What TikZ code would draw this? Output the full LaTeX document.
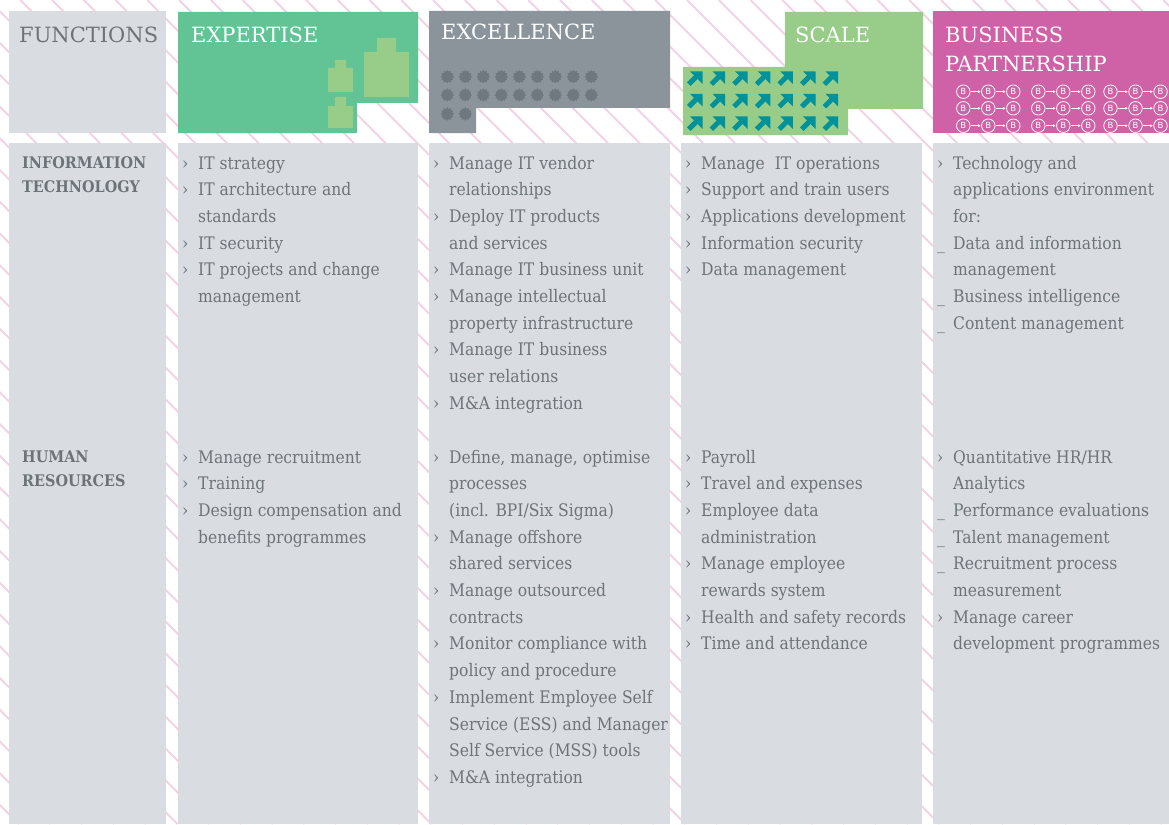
\documentclass[tikz,border=0pt]{standalone}
\usepackage{fontspec}
\setmainfont{DejaVu Serif}
\newfontfamily\condfont{DejaVu Serif Condensed}
\newfontfamily\bsans{DejaVu Sans}
\usepackage{array}
\usetikzlibrary{shapes.geometric,arrows.meta}

\definecolor{cPanel}{HTML}{D9DCE0}
\definecolor{cStripe}{HTML}{F2D3E6}
\definecolor{cTxt}{HTML}{6C747A}
\definecolor{cExp}{HTML}{62C395}
\definecolor{cLgreen}{HTML}{98CD89}
\definecolor{cExc}{HTML}{8A949A}
\definecolor{cStar}{HTML}{6F787E}
\definecolor{cTeal}{HTML}{00929B}
\definecolor{cPink}{HTML}{CF62A6}

\newcommand\bodyfnt{\condfont\fontsize{17.3}{26.7}\selectfont}
\newcommand\hdrfnt{\fontsize{21}{29}\selectfont}
\newcommand\labfnt{\condfont\bfseries\fontsize{16}{24.5}\selectfont}
\newcommand\itm{›}
\newenvironment{lst}{\begin{tabular}[t]{@{}p{16pt}@{}l@{}}}{\end{tabular}}
\newenvironment{lns}{\begin{tabular}[t]{@{}l@{}}}{\end{tabular}}

\tikzset{
  stripe/.style={draw=cStripe, line width=1.9pt},
  body/.style={font=\bodyfnt, text=cTxt, inner sep=0pt, anchor=base west},
  hdr/.style={font=\hdrfnt, inner sep=0pt, anchor=base west},
  lab/.style={font=\labfnt, text=cTxt, inner sep=0pt, anchor=base west},
  gear/.style={star, star points=12, star point ratio=1.3, minimum size=13.5pt, inner sep=0pt, fill=cStar, draw=none},
  bcirc/.style={circle, draw=white, line width=0.8pt, minimum size=13.5pt, inner sep=0pt, text=white, font=\bsans\fontsize{8.5}{8.5}\selectfont},
  blink/.style={draw=white, line width=0.9pt, -{Latex[length=2.5pt,width=3pt]}, shorten <=0.5pt, shorten >=0.5pt},
  tarrow/.pic={
    \fill[cTeal] (3,-0.5) -- (15.5,-0.5) -- (15.5,12) -- cycle;
    \draw[cTeal, line width=5pt] (1.8,12.2) -- (10,4);
  }
}

\begin{document}
\begin{tikzpicture}[x=1pt,y=-1pt]
\useasboundingbox (0,0) rectangle (1169,824);
\fill[white] (0,0) rectangle (1169,824);
\begin{scope}
  \clip (0,0) rectangle (1169,824);
  \foreach \k in {-48,...,15}
    \draw[stripe] ({687+31.75*\k},0) -- ({687+31.75*\k+824},824);
\end{scope}

% ---------- header blocks ----------
\fill[cPanel] (9,11) rectangle (166,133);
\fill[cExp] (178,12) -- (418,12) -- (418,103) -- (357,103) -- (357,133) -- (178,133) -- cycle;
\fill[cExc] (429,11) -- (670,11) -- (670,108) -- (476,108) -- (476,133) -- (429,133) -- cycle;
\fill[cLgreen] (785,12) -- (923,12) -- (923,109) -- (848,109) -- (848,135) -- (683,135) -- (683,67) -- (785,67) -- cycle;
\fill[cPink] (933,11) rectangle (1169,133);

% expertise icons
\fill[cLgreen] (377,38) -- (396,38) -- (396,52) -- (409,52) -- (409,97) -- (364,97) -- (364,52) -- (377,52) -- cycle;
\fill[cLgreen] (335,60) -- (346,60) -- (346,68) -- (353,68) -- (353,92) -- (328,92) -- (328,68) -- (335,68) -- cycle;
\fill[cLgreen] (335,97) -- (346,97) -- (346,106) -- (353,106) -- (353,128) -- (328,128) -- (328,106) -- (335,106) -- cycle;

% excellence gears
\foreach \r/\yy/\n in {1/76.7/8, 2/95/8, 3/114/1}
  \foreach \i in {0,...,\n}
    \node[gear] (s\r-\i) at ({447.3+18*\i},\yy) {};

% scale arrows
\foreach \j in {0,1,2}
  \foreach \i in {0,...,6}
    \pic at ({687+22.6*\i},{72+22.5*\j}) {tarrow};

% business chains
\foreach \r/\yy in {1/91.7,2/108.3,3/125.7}
  \foreach \g/\xx in {1/963.3,2/1038.3,3/1110.5} {
    \foreach \i in {0,1,2}
      \node[bcirc] (b\r\g\i) at ({\xx+25*\i},\yy) {B};
    \draw[blink] (b\r\g0) -- (b\r\g1);
    \draw[blink] (b\r\g1) -- (b\r\g2);
  }

% header texts
\node[hdr, text=cTxt] (hF) at (19,43) {FUNCTIONS};
\node[hdr, text=white] (hE) at (191,43) {EXPERTISE};
\node[hdr, text=white] (hX) at (441,40) {EXCELLENCE};
\node[hdr, text=white] (hS) at (795,43) {SCALE};
\node[hdr, text=white] (hB) at (945,43) {\begin{lns}BUSINESS\\PARTNERSHIP\end{lns}};

% ---------- body panels ----------
\fill[cPanel] (9,143) rectangle (166,824);
\fill[cPanel] (178,143) rectangle (418,824);
\fill[cPanel] (429,143) rectangle (670,824);
\fill[cPanel] (681,143) rectangle (922,824);
\fill[cPanel] (933,143) rectangle (1169,824);

% row labels
\node[lab] (lIT) at (22,168) {\begin{lns}INFORMATION\\TECHNOLOGY\end{lns}};
\node[lab] (lHR) at (22,462) {\begin{lns}HUMAN\\RESOURCES\end{lns}};

% IT row
\node[body] (it1) at (182,169) {\begin{lst}
\itm & IT strategy\\
\itm & IT architecture and\\
     & standards\\
\itm & IT security\\
\itm & IT projects and change\\
     & management
\end{lst}};
\node[body] (it2) at (433,169) {\begin{lst}
\itm & Manage IT vendor\\
     & relationships\\
\itm & Deploy IT products\\
     & and services\\
\itm & Manage IT business unit\\
\itm & Manage intellectual\\
     & property infrastructure\\
\itm & Manage IT business\\
     & user relations\\
\itm & M\&A integration
\end{lst}};
\node[body] (it3) at (685,169) {\begin{lst}
\itm & Manage\ \ IT operations\\
\itm & Support and train users\\
\itm & Applications development\\
\itm & Information security\\
\itm & Data management
\end{lst}};
\node[body] (it4) at (937,169) {\begin{lst}
\itm & Technology and\\
     & applications environment\\
     & for:\\
\_   & Data and information\\
     & management\\
\_   & Business intelligence\\
\_   & Content management
\end{lst}};

% HR row
\node[body] (hr1) at (182,463) {\begin{lst}
\itm & Manage recruitment\\
\itm & Training\\
\itm & Design compensation and\\
     & benefits programmes
\end{lst}};
\node[body] (hr2) at (433,463) {\begin{lst}
\itm & Define, manage, optimise\\
     & processes\\
     & (incl. BPI/Six Sigma)\\
\itm & Manage offshore\\
     & shared services\\
\itm & Manage outsourced\\
     & contracts\\
\itm & Monitor compliance with\\
     & policy and procedure\\
\itm & Implement Employee Self\\
     & Service (ESS) and Manager\\
     & Self Service (MSS) tools\\
\itm & M\&A integration
\end{lst}};
\node[body] (hr3) at (685,463) {\begin{lst}
\itm & Payroll\\
\itm & Travel and expenses\\
\itm & Employee data\\
     & administration\\
\itm & Manage employee\\
     & rewards system\\
\itm & Health and safety records\\
\itm & Time and attendance
\end{lst}};
\node[body] (hr4) at (937,463) {\begin{lst}
\itm & Quantitative HR/HR\\
     & Analytics\\
\_   & Performance evaluations\\
\_   & Talent management\\
\_   & Recruitment process\\
     & measurement\\
\itm & Manage career\\
     & development programmes
\end{lst}};
\end{tikzpicture}
\end{document}
